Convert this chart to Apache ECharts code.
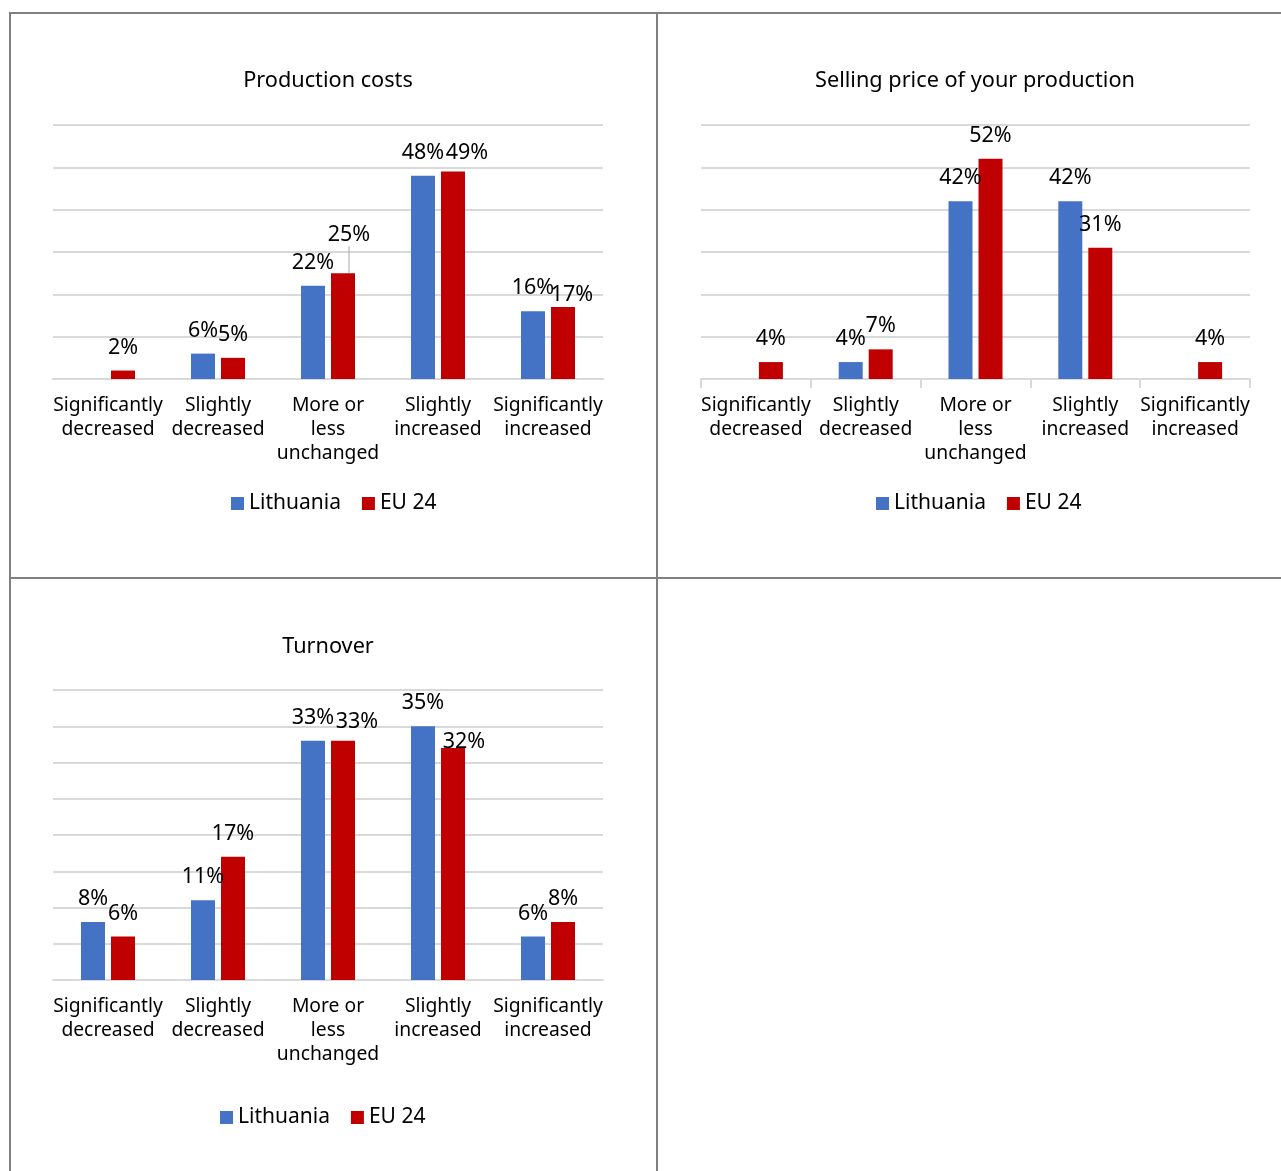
<!DOCTYPE html>
<html>
<head>
<meta charset="utf-8">
<script src="https://cdn.jsdelivr.net/npm/echarts@6/dist/echarts.min.js"></script>
<style>
html,body{margin:0;padding:0;background:#fff;}
#c{width:1281px;height:1171px;}
</style>
</head>
<body>
<div id="c"></div>
<script>
var categories = ['Significantly\ndecreased', 'Slightly\ndecreased', 'More or\nless\nunchanged', 'Slightly\nincreased', 'Significantly\nincreased'];
var seriesNames = ['Lithuania', 'EU 24'];
var chartTitles = ['Production costs', 'Selling price of your production', 'Turnover'];

var costsLithuania = [null, 6, 22, 48, 16];
var costsEU = [2, 5, 25, 49, 17];
var priceLithuania = [null, 4, 42, 42, null];
var priceEU = [4, 7, 52, 31, 4];
var turnoverLithuania = [8, 11, 33, 35, 6];
var turnoverEU = [6, 17, 33, 32, 8];

var colors = ['#4472c4', '#c00000'];
var FONT = 'Noto Sans';

// label nudges key panel-series-index -> [dx, dy, leaderLine]
var nudges = {
  '0-1-2': [6, -15, true],
  '0-1-3': [14, 4],
  '0-1-4': [9, 11],
  '2-1-2': [14, 4],
  '2-1-3': [11, 17]
};

var panels = [
  {lith: costsLithuania, eu: costsEU, grid: {left: 53, top: 125, width: 550, height: 254}, max: 60, interval: 10, ticks: false, titleX: 328, titleY: 70, legendX: 231, legendY: 493},
  {lith: priceLithuania, eu: priceEU, grid: {left: 701, top: 125, width: 549, height: 254}, max: 60, interval: 10, ticks: true, titleX: 975, titleY: 70, legendX: 876, legendY: 493},
  {lith: turnoverLithuania, eu: turnoverEU, grid: {left: 53, top: 690, width: 550, height: 290}, max: 40, interval: 5, ticks: false, titleX: 328, titleY: 636, legendX: 220, legendY: 1107}
];

var option = {
  animation: false,
  textStyle: {fontFamily: FONT},
  title: [], legend: [], grid: [], xAxis: [], yAxis: [], series: [],
  graphic: [
    {type: 'line', shape: {x1: 10, y1: 13, x2: 1281, y2: 13}, style: {stroke: '#808080', lineWidth: 2}},
    {type: 'line', shape: {x1: 10, y1: 578, x2: 1281, y2: 578}, style: {stroke: '#808080', lineWidth: 2}},
    {type: 'line', shape: {x1: 10, y1: 12, x2: 10, y2: 1171}, style: {stroke: '#808080', lineWidth: 2}},
    {type: 'line', shape: {x1: 657, y1: 12, x2: 657, y2: 1171}, style: {stroke: '#808080', lineWidth: 2}}
  ]
};

panels.forEach(function (p, i) {
  option.title.push({
    text: chartTitles[i], left: p.titleX, top: p.titleY, textAlign: 'center', padding: 0,
    textStyle: {fontFamily: FONT, fontSize: 21.7, fontWeight: 'normal', color: '#000'}
  });
  var legendData = seriesNames.map(function (n) { return n + '#' + i; });
  option.legend.push({
    data: legendData, left: p.legendX, top: p.legendY, padding: 0,
    itemWidth: 13, itemHeight: 13, itemGap: 21, icon: 'rect',
    formatter: function (n) { return n.split('#')[0]; },
    textStyle: {fontFamily: FONT, fontSize: 21, color: '#000'},
    selectedMode: false
  });
  option.grid.push({left: p.grid.left, top: p.grid.top, width: p.grid.width, height: p.grid.height, containLabel: false});
  option.xAxis.push({
    type: 'category', gridIndex: i, data: categories,
    axisLine: {show: true, lineStyle: {color: '#d9d9d9', width: 2}},
    axisTick: {show: p.ticks, length: 9, lineStyle: {color: '#d9d9d9', width: 2}},
    axisLabel: {interval: 0, fontFamily: FONT, fontSize: 19.3, color: '#000', lineHeight: 24, margin: 15}
  });
  option.yAxis.push({
    type: 'value', gridIndex: i, min: 0, max: p.max, interval: p.interval,
    axisLabel: {show: false}, axisLine: {show: false}, axisTick: {show: false},
    splitLine: {lineStyle: {color: '#d9d9d9', width: 2}}
  });
  [p.lith, p.eu].forEach(function (vals, s) {
    var data = vals.map(function (v, k) {
      var n = nudges[i + '-' + s + '-' + k];
      var item = {value: v};
      if (n && n[2]) item.labelLine = {show: true, lineStyle: {color: '#a6a6a6', width: 1}};
      return item;
    });
    option.series.push({
      type: 'bar', name: seriesNames[s] + '#' + i, xAxisIndex: i, yAxisIndex: i,
      data: data, barWidth: 24, barGap: '25%',
      itemStyle: {color: colors[s]},
      label: {
        show: true, position: 'top', distance: 12,
        formatter: function (pr) { return pr.value == null ? '' : pr.value + '%'; },
        fontFamily: FONT, fontSize: 21.5, color: '#000'
      },
      labelLine: {show: false},
      labelLayout: (function (pi, si) {
        return function (pr) {
          var n = nudges[pi + '-' + si + '-' + pr.dataIndex];
          return n ? {dx: n[0], dy: n[1]} : {};
        };
      })(i, s)
    });
  });
});

var chart = echarts.init(document.getElementById('c'), null, {renderer: 'canvas'});
chart.setOption(option);
</script>
</body>
</html>
